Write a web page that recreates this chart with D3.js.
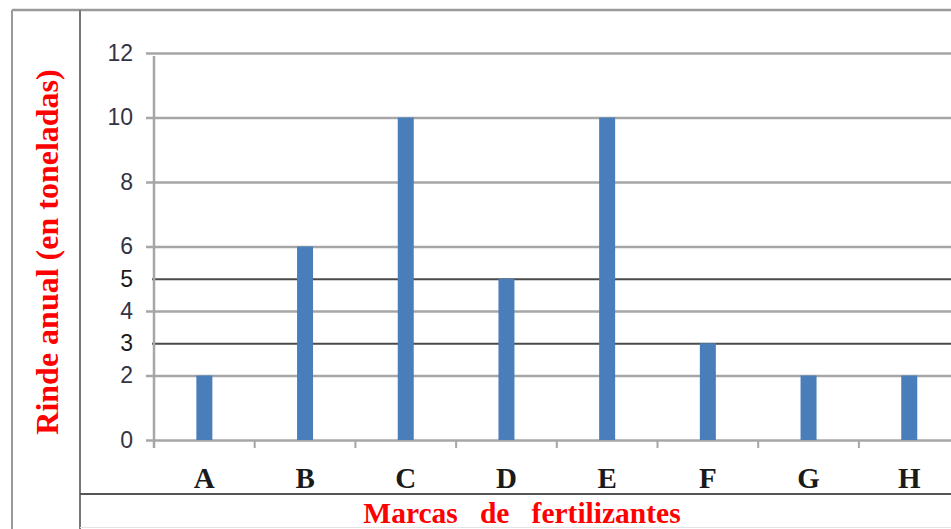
<!DOCTYPE html>
<html><head><meta charset="utf-8">
<script src="https://cdn.jsdelivr.net/npm/d3@7"></script>
<style>html,body{margin:0;padding:0;background:#fff;}svg{display:block;}</style>
</head><body>
<svg id="c" width="951" height="529"></svg>
<script>
const categories = ["A","B","C","D","E","F","G","H"];
const values = [2,6,10,5,10,3,2,2];
const majorTicks = [0,2,4,6,8,10,12];
const extraTicks = [3,5];
const yTitle = "Rinde anual (en toneladas)";
const xTitle = "Marcas   de   fertilizantes";

const svg = d3.select("#c");
const m = {left:154, top:53, bottom:440};
const bandW = 100.7;
const x = d3.scaleBand().domain(categories).range([m.left, m.left + bandW*categories.length]).paddingInner(0).paddingOuter(0);
const y = d3.scaleLinear().domain([0,12]).range([m.bottom, m.top]);

// frame
const frame = svg.append("g").attr("fill","none");
frame.append("line").attr("x1",12).attr("x2",951).attr("y1",10).attr("y2",10).attr("stroke","#9a9a9a").attr("stroke-width",2.5);
frame.append("line").attr("x1",12).attr("x2",12).attr("y1",10).attr("y2",529).attr("stroke","#9a9a9a").attr("stroke-width",2);
frame.append("line").attr("x1",80).attr("x2",80).attr("y1",10).attr("y2",529).attr("stroke","#777").attr("stroke-width",2);
frame.append("line").attr("x1",80).attr("x2",951).attr("y1",494).attr("y2",494).attr("stroke","#555").attr("stroke-width",2);
frame.append("line").attr("x1",80).attr("x2",951).attr("y1",527.5).attr("y2",527.5).attr("stroke","#e4e4e4").attr("stroke-width",1);

const tickFont = "'Liberation Sans', Arial, sans-serif";
// gridlines via axis
const yAxis = d3.axisLeft(y).tickValues(majorTicks).tickSize(-(951 - m.left)).tickSizeOuter(0);
const gy = svg.append("g").attr("transform",`translate(${m.left},0)`).call(yAxis);
gy.select(".domain").remove();
gy.selectAll(".tick line").attr("stroke","#a6a6a6").attr("stroke-width",2.5).attr("x1",-8);
gy.selectAll(".tick text").attr("font-family",tickFont).attr("font-size",23).attr("fill","#333344").attr("x",-21);

const yAxis2 = d3.axisLeft(y).tickValues(extraTicks).tickSize(-(951 - m.left)).tickSizeOuter(0);
const gy2 = svg.append("g").attr("transform",`translate(${m.left},0)`).call(yAxis2);
gy2.select(".domain").remove();
gy2.selectAll(".tick line").attr("stroke","#4a4a4a").attr("stroke-width",2).attr("x1",-2);
gy2.selectAll(".tick text").attr("font-family",tickFont).attr("font-size",23).attr("fill","#1a1a1a").attr("x",-21);

// y axis vertical line
svg.append("line").attr("x1",m.left).attr("x2",m.left).attr("y1",y(12)+3).attr("y2",m.bottom+8).attr("stroke","#a6a6a6").attr("stroke-width",2.5);

// bars
const barW = 16;
svg.append("g").selectAll("rect").data(values).join("rect")
  .attr("x",(d,i)=>x(categories[i]) + x.bandwidth()/2 - barW/2)
  .attr("width",barW)
  .attr("y",d=>y(d))
  .attr("height",d=>y(0)-y(d))
  .attr("fill","#4a7ebb");

// x axis ticks (boundaries)
const boundaries = categories.map(c=>x(c)).concat([x(categories[categories.length-1])+x.bandwidth()]);
svg.append("g").selectAll("line").data(boundaries.slice(1)).join("line")
  .attr("x1",d=>d).attr("x2",d=>d).attr("y1",m.bottom).attr("y2",m.bottom+8)
  .attr("stroke","#a6a6a6").attr("stroke-width",2);

const serif = "'Liberation Serif','Times New Roman',serif";
// x labels
svg.append("g").selectAll("text").data(categories).join("text")
  .attr("x",d=>x(d)+x.bandwidth()/2).attr("y",488)
  .attr("text-anchor","middle")
  .attr("font-family",serif).attr("font-weight","bold")
  .attr("font-size",29).attr("fill","#1a1a1a").text(d=>d);

// titles
svg.append("text").attr("x",522).attr("y",523).attr("text-anchor","middle")
  .attr("font-family",serif).attr("font-weight","bold")
  .attr("font-size",29.5).attr("fill","#ff0000").style("white-space","pre").text(xTitle);

svg.append("text").attr("transform","translate(58,252) rotate(-90)").attr("text-anchor","middle")
  .attr("font-family",serif).attr("font-weight","bold")
  .attr("font-size",32).attr("fill","#ff0000").text(yTitle);
</script>
</body></html>
